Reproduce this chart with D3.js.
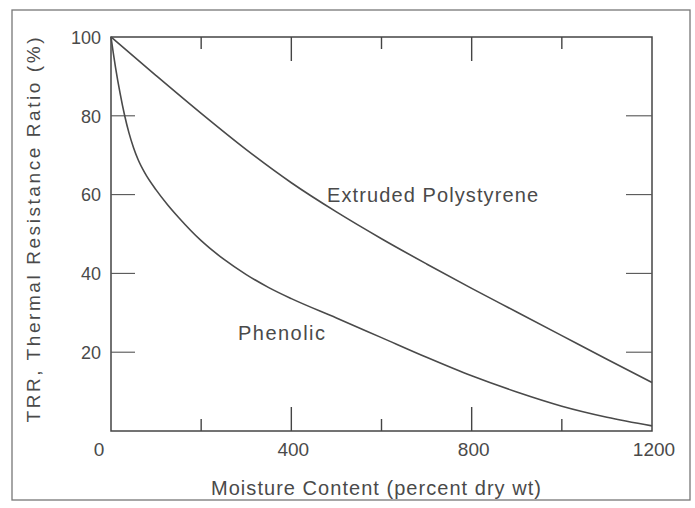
<!DOCTYPE html>
<html><head><meta charset="utf-8">
<script src="https://cdn.jsdelivr.net/npm/d3@7"></script>
<style>body{margin:0;background:#fff}</style>
</head><body>
<script>
const moisture = [0, 100, 200, 300, 400, 500, 600, 700, 800, 900, 1000, 1100, 1200];
const polystyrene = [100, 90.2, 80.6, 71.4, 63, 55.6, 48.8, 42.4, 36.2, 30.2, 24.2, 18.2, 12.3];
const phenolicX = [0, 5, 10, 20, 30, 40, 50, 60, 75, 100, 125, 150, 200, 250, 300, 350, 400, 500, 600, 700, 800, 900, 1000, 1100, 1200];
const phenolic = [100, 96, 92.3, 85.8, 80.2, 75.6, 71.9, 68.9, 65.5, 61.2, 57.5, 54.2, 48.3, 43.6, 39.7, 36.4, 33.6, 28.7, 23.7, 18.7, 14, 9.9, 6.3, 3.5, 1.3];
const xTickLabels = [0, 400, 800, 1200];
const xTicksAll = [200, 400, 600, 800, 1000];
const yTickLabels = [20, 40, 60, 80, 100];
const yTicksInner = [20, 40, 60, 80];

const W = 695, H = 508;
const col = "#4a4a4a";
const svg = d3.select("body").append("svg").attr("width", W).attr("height", H);
svg.append("rect").attr("x", 12).attr("y", 10).attr("width", 678).attr("height", 490)
  .attr("fill", "none").attr("stroke", "#777").attr("stroke-width", 1.3);

const x = d3.scaleLinear().domain([0, 1200]).range([111, 652]);
const y = d3.scaleLinear().domain([0, 100]).range([431, 37]);

const g = svg.append("g");
g.append("rect").attr("x", x(0)).attr("y", y(100)).attr("width", x(1200) - x(0)).attr("height", y(0) - y(100))
  .attr("fill", "none").attr("stroke", "#444").attr("stroke-width", 1.5);

const tickLen = v => (v % 400 === 0 ? 24 : 12);
g.selectAll(".tt").data(xTicksAll).enter().append("line")
  .attr("x1", d => x(d)).attr("x2", d => x(d)).attr("y1", y(100)).attr("y2", d => y(100) + tickLen(d))
  .attr("stroke", "#444").attr("stroke-width", 1.4);
g.selectAll(".bt").data(xTicksAll).enter().append("line")
  .attr("x1", d => x(d)).attr("x2", d => x(d)).attr("y1", y(0)).attr("y2", d => y(0) - tickLen(d))
  .attr("stroke", "#444").attr("stroke-width", 1.4);
g.selectAll(".lt").data(yTicksInner).enter().append("line")
  .attr("x1", x(0)).attr("x2", x(0) + 24).attr("y1", d => y(d)).attr("y2", d => y(d))
  .attr("stroke", "#555").attr("stroke-width", 1.1);
g.selectAll(".rt").data(yTicksInner).enter().append("line")
  .attr("x1", x(1200)).attr("x2", x(1200) - 26).attr("y1", d => y(d)).attr("y2", d => y(d))
  .attr("stroke", "#555").attr("stroke-width", 1.1);

const font = "'Liberation Sans', Arial, sans-serif";
g.selectAll(".yl").data(yTickLabels).enter().append("text")
  .attr("x", 101).attr("y", d => y(d)).attr("dy", "0.36em").attr("text-anchor", "end")
  .attr("font-family", font).attr("font-size", 19).attr("fill", col)
  .attr("textLength", d => d === 100 ? 30 : 20).attr("lengthAdjust", "spacingAndGlyphs").text(d => d);
g.selectAll(".xl").data(xTickLabels).enter().append("text")
  .attr("x", d => d === 0 ? x(d) - 12 : x(d) + 2).attr("y", 456).attr("text-anchor", "middle")
  .attr("font-family", font).attr("font-size", 19).attr("fill", col).text(d => d);

svg.append("text").attr("x", 376).attr("y", 495).attr("text-anchor", "middle")
  .attr("font-family", font).attr("font-size", 20).attr("fill", col)
  .attr("textLength", 330).attr("lengthAdjust", "spacing")
  .text("Moisture Content (percent dry wt)");
svg.append("text").attr("transform", "translate(40,230) rotate(-90)").attr("text-anchor", "middle")
  .attr("font-family", font).attr("font-size", 19).attr("fill", col)
  .attr("textLength", 385).attr("lengthAdjust", "spacing")
  .text("TRR, Thermal Resistance Ratio (%)");

const line = d3.line().x(d => x(d[0])).y(d => y(d[1])).curve(d3.curveMonotoneX);
g.append("path").datum(moisture.map((m, i) => [m, polystyrene[i]])).attr("d", line)
  .attr("fill", "none").attr("stroke", col).attr("stroke-width", 1.6);
g.append("path").datum(phenolicX.map((m, i) => [m, phenolic[i]])).attr("d", line)
  .attr("fill", "none").attr("stroke", col).attr("stroke-width", 1.6);

g.append("text").attr("x", 327).attr("y", 202).attr("font-family", font).attr("font-size", 20)
  .attr("fill", col).attr("textLength", 211).attr("lengthAdjust", "spacing").text("Extruded Polystyrene");
g.append("text").attr("x", 238).attr("y", 340).attr("font-family", font).attr("font-size", 20)
  .attr("fill", col).attr("textLength", 87).attr("lengthAdjust", "spacing").text("Phenolic");
</script>
</body></html>
